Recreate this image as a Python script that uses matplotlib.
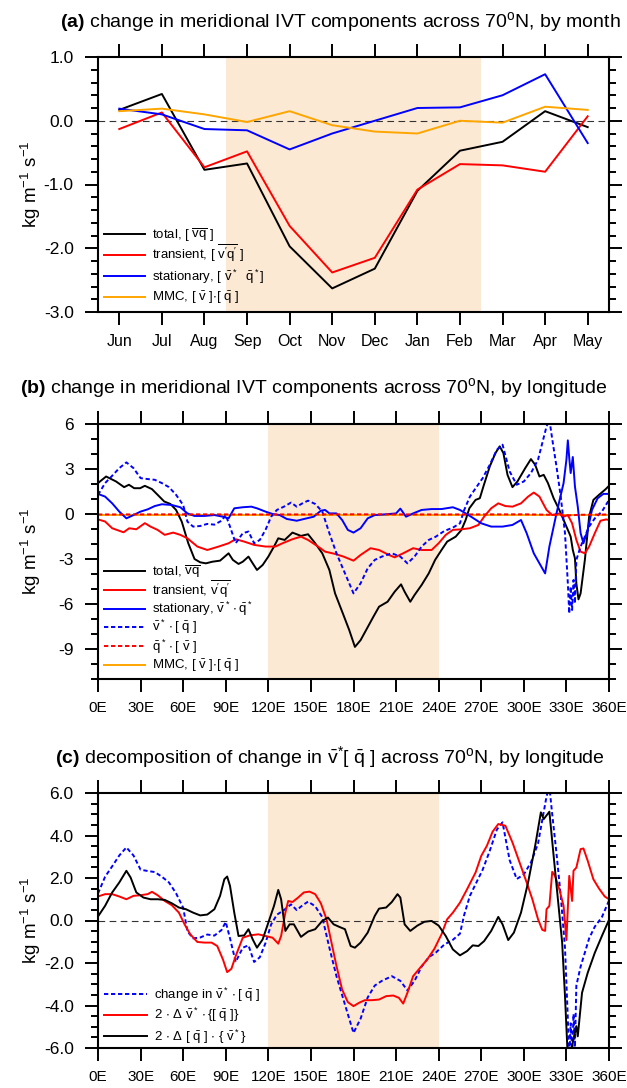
import numpy as np
import matplotlib
matplotlib.use("Agg")
import matplotlib.pyplot as plt
from matplotlib.ticker import MultipleLocator, FixedLocator

plt.rcParams['font.family'] = ['Liberation Sans', 'DejaVu Sans']
plt.rcParams['mathtext.fontset'] = 'custom'
plt.rcParams['mathtext.rm'] = 'Liberation Sans'
plt.rcParams['mathtext.it'] = 'Liberation Sans:italic'
plt.rcParams['mathtext.bf'] = 'Liberation Sans:bold'
plt.rcParams['mathtext.default'] = 'regular'
plt.rcParams['axes.unicode_minus'] = False

# ---- panel (a): by month ----
months = ['Jun', 'Jul', 'Aug', 'Sep', 'Oct', 'Nov', 'Dec', 'Jan', 'Feb', 'Mar', 'Apr', 'May']
a_total = [0.17, 0.42, -0.77, -0.67, -1.97, -2.63, -2.32, -1.10, -0.47, -0.33, 0.15, -0.10]
a_transient = [-0.13, 0.13, -0.73, -0.48, -1.65, -2.38, -2.15, -1.08, -0.68, -0.70, -0.80, 0.07]
a_stationary = [0.19, 0.10, -0.13, -0.15, -0.45, -0.20, 0.00, 0.20, 0.21, 0.40, 0.73, -0.35]
a_mmc = [0.15, 0.19, 0.10, -0.02, 0.15, -0.07, -0.17, -0.20, 0.00, -0.03, 0.22, 0.17]

# ---- panel (b): by longitude ----
b_total_lon = [0, 5.7, 12.7, 18.4, 21.8, 25.5, 29.7, 33, 38, 42, 46.7, 51, 55, 59, 63.6, 68, 72, 76,
               80.6, 86, 92, 95, 99, 102, 106, 109, 112, 116, 120, 124, 127, 131.5, 137, 143, 148,
               153, 158, 163, 167, 172.5, 177, 181, 185, 189.5, 194, 198, 204, 209, 213.5, 216, 220,
               223, 228, 233, 237.5, 242, 246, 252, 256, 259, 261.6, 266, 269, 271.5, 276, 280, 283,
               285.6, 288.5, 292, 295.5, 301, 305, 308, 311, 314, 317, 321, 325, 329.5, 332, 333,
               334.5, 336, 337, 338.5, 340, 343, 346, 349, 353, 357.7, 360]
b_total = [2.06, 2.5, 2.17, 1.79, 1.95, 1.72, 1.72, 1.88, 1.66, 1.28, 0.83, 0.67, 0.27, -0.51, -1.95,
           -3.0, -3.22, -3.29, -3.18, -3.11, -2.62, -3.06, -3.33, -3.18, -2.84, -3.29, -3.73, -3.40,
           -2.84, -2.17, -1.62, -1.73, -1.24, -1.46, -1.35, -1.95, -2.62, -3.73, -5.29, -6.63, -7.74,
           -8.86, -8.41, -7.63, -6.85, -6.18, -5.85, -5.18, -4.69, -5.18, -5.85, -5.40, -4.73, -3.96,
           -3.06, -2.40, -1.84, -1.51, -1.07, -0.40, 0.38, 0.94, 1.05, 1.83, 3.17, 4.06, 4.51, 4.06,
           2.61, 1.79, 2.17, 3.06, 3.66, 3.28, 2.50, 2.61, 2.06, 1.05, 0.27, -0.73, -1.28, -1.51,
           -2.40, -2.95, -4.62, -5.69, -5.29, -3.06, -0.18, 0.94, 1.28, 1.66, 1.88]

b_trans_lon = [0, 5, 10, 18, 22, 27, 33, 37, 42, 47, 53, 58, 63, 70, 77, 85, 92, 97, 103, 110, 118,
               125, 130, 137, 143, 148, 155, 160, 167, 173, 180, 185, 192, 198, 205, 209, 215, 222,
               228, 235, 240, 245, 250, 256, 262, 268, 272, 277, 282, 287, 292, 298, 303, 307, 311,
               316, 320, 325, 328, 331, 334, 337, 340, 343, 346, 350, 354, 358, 360]
b_trans = [-0.36, -0.5, -0.95, -1.22, -0.95, -1.02, -0.61, -0.84, -1.06, -1.39, -1.24, -1.39, -1.62,
           -2.17, -2.40, -2.17, -1.95, -1.68, -1.84, -2.06, -2.17, -2.17, -1.95, -1.68, -1.51, -1.73,
           -2.17, -2.51, -2.66, -2.84, -3.11, -2.73, -2.28, -2.40, -2.73, -2.89, -2.62, -2.28, -2.40,
           -2.40, -1.95, -1.39, -1.06, -1.02, -0.95, -0.73, -0.18, 0.38, 0.71, 0.53, 0.49, 0.71, 1.16,
           1.43, 1.16, 0.27, -0.07, 0.04, -0.18, -0.07, -0.62, -1.73, -2.51, -2.62, -2.17, -1.28,
           -0.45, -0.36, -0.40]

b_stat_lon = [0, 5, 10, 15, 20, 25, 30, 35, 40, 45, 52, 58, 63, 68, 75, 82, 88, 92, 96, 102, 108,
              112, 118, 123, 128, 133, 140, 147, 152, 157, 160, 163, 168, 172, 176, 180, 185, 190,
              195, 203, 210, 213, 217, 222, 228, 235, 242, 250, 255, 262, 270, 277, 285, 292, 298,
              302, 307, 315, 318, 323, 328, 330, 331, 332, 333, 334.5, 336, 338, 340, 342, 345, 348,
              352, 356, 360]
b_stat = [1.34, 1.16, 0.71, 0.16, -0.29, -0.07, 0.16, 0.31, 0.53, 0.65, 0.60, 0.45, 0.04, -0.13,
          -0.13, -0.07, -0.18, -0.29, 0.38, 0.45, 0.49, 0.38, 0.16, 0.0, -0.07, -0.33, -0.45, -0.29,
          -0.18, 0.22, 0.27, 0.04, 0.04, -0.40, -1.06, -1.24, -0.95, -0.29, -0.07, -0.02, 0.04, 0.36,
          -0.18, 0.04, 0.27, 0.33, 0.33, 0.45, 0.27, -0.13, -0.62, -0.84, -0.84, -0.73, -0.40, -1.28,
          -2.62, -3.96, -2.17, 0.04, 2.06, 3.62, 4.91, 3.73, 2.73, 3.80, 1.84, 0.49, -1.28, -1.95,
          -1.06, 0.27, 1.05, 1.34, 1.34]

vq_lon = [0, 5, 10, 15, 20, 25, 30, 35, 40, 45, 50, 55, 60, 63, 67, 72, 77, 82, 87, 90, 93, 97, 102,
          106, 110, 114, 118, 122, 126, 131, 136, 140, 144, 148, 153, 158, 163, 168, 174, 180, 185,
          190, 195, 200, 207, 213, 218, 223, 228, 233, 238, 244, 250, 255, 258, 262, 266, 271, 276,
          281, 285, 290, 295, 300, 305, 310, 313, 316, 318, 320, 323, 326, 329, 331, 332, 333, 334,
          335, 336, 337, 340, 343, 346, 350, 355, 360]
vq = [1.27, 2.06, 2.55, 3.06, 3.44, 3.06, 2.39, 2.33, 2.28, 2.06, 1.79, 1.28, 0.60, -0.51, -0.84,
      -0.80, -0.66, -0.71, -0.45, -0.07, -0.84, -1.95, -1.28, -1.17, -1.95, -1.73, -1.06, -0.18, 0.27,
      0.49, 0.76, 0.49, 0.71, 0.89, 0.67, 0.16, -1.28, -2.62, -3.96, -5.29, -4.62, -3.62, -3.06, -2.84,
      -2.62, -2.84, -3.29, -2.84, -2.17, -1.73, -1.51, -1.13, -0.91, -0.62, 0.27, 1.16, 1.71, 2.39,
      3.28, 4.28, 4.62, 2.84, 1.95, 2.17, 2.73, 3.62, 4.73, 5.84, 6.3, 5.0, 3.17, 1.16, -1.28, -4.62,
      -6.63, -4.84, -6.4, -4.4, -5.96, -3.06, -2.17, -1.51, -0.84, -0.29, 0.16, 0.94]

qv_lon = [0, 60, 120, 180, 240, 300, 320, 330, 340, 360]
qv = [-0.03, -0.02, -0.03, -0.02, -0.03, -0.02, -0.05, -0.10, -0.05, -0.03]
mmc_lon = [0, 360]
mmc = [-0.08, -0.08]

# ---- panel (c): decomposition ----
c_red_lon = [0, 5, 10, 15, 20, 25, 30, 35, 38, 42, 47, 52, 57, 61, 65, 70, 75, 80, 84, 88, 91, 94,
             97, 102, 107, 113, 118, 123, 127, 129, 132, 134, 137, 141, 145, 149, 153, 157, 161, 164,
             168, 172, 176, 180, 184, 188, 193, 198, 203, 208, 212, 215, 218, 222, 227, 232, 237,
             242, 246, 250, 255, 260, 266, 270, 274, 278, 282, 287, 292, 297, 302, 306, 310, 313,
             315, 316, 318, 320, 322, 325, 328, 330, 332, 334, 335, 337, 340, 342, 345, 349, 353,
             357, 360]
c_red = [1.13, 1.24, 1.24, 1.13, 1.0, 1.16, 1.19, 1.24, 1.35, 1.19, 0.92, 0.72, 0.37, -0.18, -0.65,
         -1.01, -1.04, -1.04, -1.20, -1.83, -2.43, -2.27, -1.67, -0.81, -0.70, -0.65, -0.73, -0.81,
         -1.09, -0.73, 0.37, 0.92, 0.87, 1.08, 1.32, 1.36, 1.24, 0.81, 0.06, -0.89, -2.14, -3.25,
         -3.84, -4.03, -3.87, -3.75, -3.75, -3.72, -3.56, -3.53, -3.64, -3.91, -3.40, -2.62, -2.22,
         -1.83, -1.33, -0.65, 0.06, 0.37, 0.84, 1.47, 2.26, 3.04, 3.52, 4.18, 4.54, 4.46, 3.67, 2.73,
         1.79, 1.0, 0.06, -0.44, -0.49, 0.53, 0.69, 2.29, 2.10, 1.47, 0.69, -0.92, 2.10, 0.92, 2.34,
         2.49, 3.36, 3.39, 2.81, 1.94, 1.50, 1.13, 1.0]

c_blk_lon = [0, 5, 10, 15, 20, 23, 27, 32, 37, 42, 47, 52, 57, 62, 67, 72, 77, 82, 86, 89, 91, 93,
             96, 99, 103, 106, 109, 112, 116, 120, 124, 127, 129, 132, 135, 138, 143, 148, 153, 158,
             162, 166, 170, 174, 178, 181, 185, 190, 195, 198, 203, 207, 211, 213, 216, 220, 225,
             230, 235, 240, 245, 250, 255, 260, 264, 268, 272, 277, 282, 285, 289, 293, 298, 303,
             308, 312, 314, 318, 321, 324, 327, 329, 331, 334, 337, 338, 341, 345, 350, 355, 360]
c_blk = [0.19, 0.69, 1.32, 1.79, 2.34, 2.02, 1.32, 1.08, 1.0, 1.0, 0.97, 0.81, 0.61, 0.53, 0.37, 0.24,
         0.28, 0.53, 1.16, 1.94, 2.07, 1.63, 0.37, -0.73, -0.70, -0.41, -0.89, -1.28, -0.89, -0.10,
         0.69, 1.44, 1.0, -0.49, -0.18, -0.18, -0.77, -0.52, -0.41, -0.02, 0.14, -0.18, -0.30, -0.41,
         -1.20, -1.28, -1.04, -0.57, 0.22, 0.56, 0.61, 0.87, 1.24, 1.08, -0.18, -0.49, -0.24, -0.06,
         -0.02, -0.24, -0.73, -1.36, -1.64, -1.44, -1.17, -1.20, -0.97, -0.49, 0.17, -0.18, -0.92,
         -0.57, 0.37, 1.79, 3.52, 5.09, 4.77, 5.12, 3.04, 1.0, -1.04, -3.56, -6.5, -5.9, -4.97, -5.45,
         -3.40, -2.46, -1.52, -0.73, 0.03]

lon_ticks = list(range(0, 361, 30))
lon_labels = ['%dE' % l for l in lon_ticks]

shade = '#fce9d4'
dash = (0, (2.2, 1.4))
W, H = 627, 1088
fig = plt.figure(figsize=(W / 100, H / 100), dpi=100)


def px_axes(left, top, right, bottom):
    ax = fig.add_axes([left / W, 1 - bottom / H, (right - left) / W, (bottom - top) / H])
    ax.box_px = (left, top, right, bottom)
    return ax


def style(ax):
    for s in ax.spines.values():
        s.set_linewidth(1.5)
    ax.tick_params(which='both', direction='out', top=True, right=True, width=1.4)
    ax.tick_params(which='major', length=9.5)
    ax.tick_params(which='minor', length=5)
    ax.tick_params(axis='y', pad=8, labelsize=12.5)
    ax.tick_params(axis='x', pad=6, labelsize=11.5)
    ax.set_ylabel('kg m$^{-1}$ s$^{-1}$', fontsize=13.5)
    ax.yaxis.set_label_coords(-0.108, 0.5)


def title(x, y, s):
    fig.text(x / W, 1 - y / H, s, ha='center', va='center', fontsize=14)


def key(ax, lines, rows_px, x0=104, x1=145, xt=152):
    # legend drawn row by row, copying the style of the plotted lines
    left, top, right, bottom = ax.box_px
    fx = lambda p: (p - left) / (right - left)
    for ln, yp in zip(lines, rows_px):
        ya = (bottom - yp) / (bottom - top)
        ls = '-' if ln.get_linestyle() == '-' else dash
        ax.plot([fx(x0), fx(x1)], [ya, ya], transform=ax.transAxes, color=ln.get_color(),
                lw=ln.get_linewidth(), ls=ls, clip_on=False, zorder=5)
        ya_t = (bottom - yp - 4.5) / (bottom - top)
        ax.text(fx(xt), ya_t, ln.get_label(), transform=ax.transAxes, va='baseline',
                ha='left', fontsize=9.5, zorder=5)


# (a)
axa = px_axes(98, 57, 609, 312)
x = np.arange(len(months))
axa.axvspan(2.5, 8.5, color=shade, lw=0, zorder=0)
axa.axhline(0, color='#333333', lw=0.8, ls=(0, (6, 4)), zorder=1)
la = [
    axa.plot(x, a_total, color='black', lw=1.4, label=r'total, [ $\overline{vq}$ ]')[0],
    axa.plot(x, a_transient, color='red', lw=1.4, label=r"transient, [ $\overline{v'q'}$ ]")[0],
    axa.plot(x, a_stationary, color='blue', lw=1.4, label=r'stationary, [ $\bar{v}^*$  $\bar{q}^*$]')[0],
    axa.plot(x, a_mmc, color='orange', lw=1.4, label=r'MMC, [ $\bar{v}$ ]$\cdot$[ $\bar{q}$ ]')[0],
]
axa.set_xlim(-0.5, 11.5)
axa.set_ylim(-3, 1)
axa.set_xticks(x)
axa.set_xticklabels(months)
axa.yaxis.set_major_locator(MultipleLocator(1))
axa.yaxis.set_minor_locator(MultipleLocator(0.2))
axa.set_yticklabels(['%.1f' % v for v in axa.get_yticks()])
style(axa)
axa.tick_params(axis='x', which='minor', top=False, bottom=False)
key(axa, la, [234, 255, 276, 297])
title(340, 22, r'$\mathbf{(a)}$ change in meridional IVT components across 70$^o$N, by month')

# (b)
axb = px_axes(98, 424, 609, 679)
axb.axvspan(120, 240, color=shade, lw=0, zorder=0)
lb = [
    axb.plot(b_total_lon, b_total, color='black', lw=1.4, label=r'total, $\overline{vq}$')[0],
    axb.plot(b_trans_lon, b_trans, color='red', lw=1.4, label=r"transient, $\overline{v'q'}$")[0],
    axb.plot(b_stat_lon, b_stat, color='blue', lw=1.4, label=r'stationary, $\bar{v}^*\cdot\bar{q}^*$')[0],
    axb.plot(vq_lon, vq, color='blue', lw=1.4, ls=dash, label=r'$\bar{v}^*\cdot$[ $\bar{q}$ ]')[0],
    axb.plot(qv_lon, qv, color='red', lw=1.4, ls=dash, label=r'$\bar{q}^*\cdot$[ $\bar{v}$ ]')[0],
    axb.plot(mmc_lon, mmc, color='orange', lw=1.4, zorder=1.5, label=r'MMC, [ $\bar{v}$ ]$\cdot$[ $\bar{q}$ ]')[0],
]
axb.set_xlim(0, 360)
axb.set_ylim(-11, 6)
axb.xaxis.set_major_locator(FixedLocator(lon_ticks))
axb.set_xticklabels(lon_labels)
axb.yaxis.set_major_locator(FixedLocator([6, 3, 0, -3, -6, -9]))
axb.yaxis.set_minor_locator(MultipleLocator(1))
axb.set_yticklabels(['6', '3', '0', '-3', '-6', '-9'])
style(axb)
axb.tick_params(axis='x', labelsize=11)
key(axb, lb, [571, 590, 609, 627, 646, 665])
title(314, 388, r'$\mathbf{(b)}$ change in meridional IVT components across 70$^o$N, by longitude')

# (c)
axc = px_axes(98, 793, 609, 1048)
axc.axvspan(120, 240, color=shade, lw=0, zorder=0)
axc.axhline(0, color='#333333', lw=0.8, ls=(0, (6, 4)), zorder=1)
lc = [
    axc.plot(vq_lon, vq, color='blue', lw=1.4, ls=dash, label=r'change in $\bar{v}^*\cdot$[ $\bar{q}$ ]')[0],
    axc.plot(c_red_lon, c_red, color='red', lw=1.4, label=r'2 $\cdot$ $\Delta$ $\bar{v}^*\cdot${[ $\bar{q}$ ]}')[0],
    axc.plot(c_blk_lon, c_blk, color='black', lw=1.4, label=r'2 $\cdot$ $\Delta$ [ $\bar{q}$ ] $\cdot$ { $\bar{v}^*$}')[0],
]
axc.set_xlim(0, 360)
axc.set_ylim(-6, 6)
axc.xaxis.set_major_locator(FixedLocator(lon_ticks))
axc.set_xticklabels(lon_labels)
axc.yaxis.set_major_locator(MultipleLocator(2))
axc.yaxis.set_minor_locator(MultipleLocator(0.5))
axc.set_yticklabels(['%.1f' % v for v in axc.get_yticks()])
style(axc)
axc.tick_params(axis='x', labelsize=11)
key(axc, lc, [994, 1015, 1036], x0=104, x1=147, xt=154)
title(330, 757, r'$\mathbf{(c)}$ decomposition of change in $\bar{v}^{*}$[ $\bar{q}$ ] across 70$^o$N, by longitude')

fig.savefig('out.png', dpi=100)
